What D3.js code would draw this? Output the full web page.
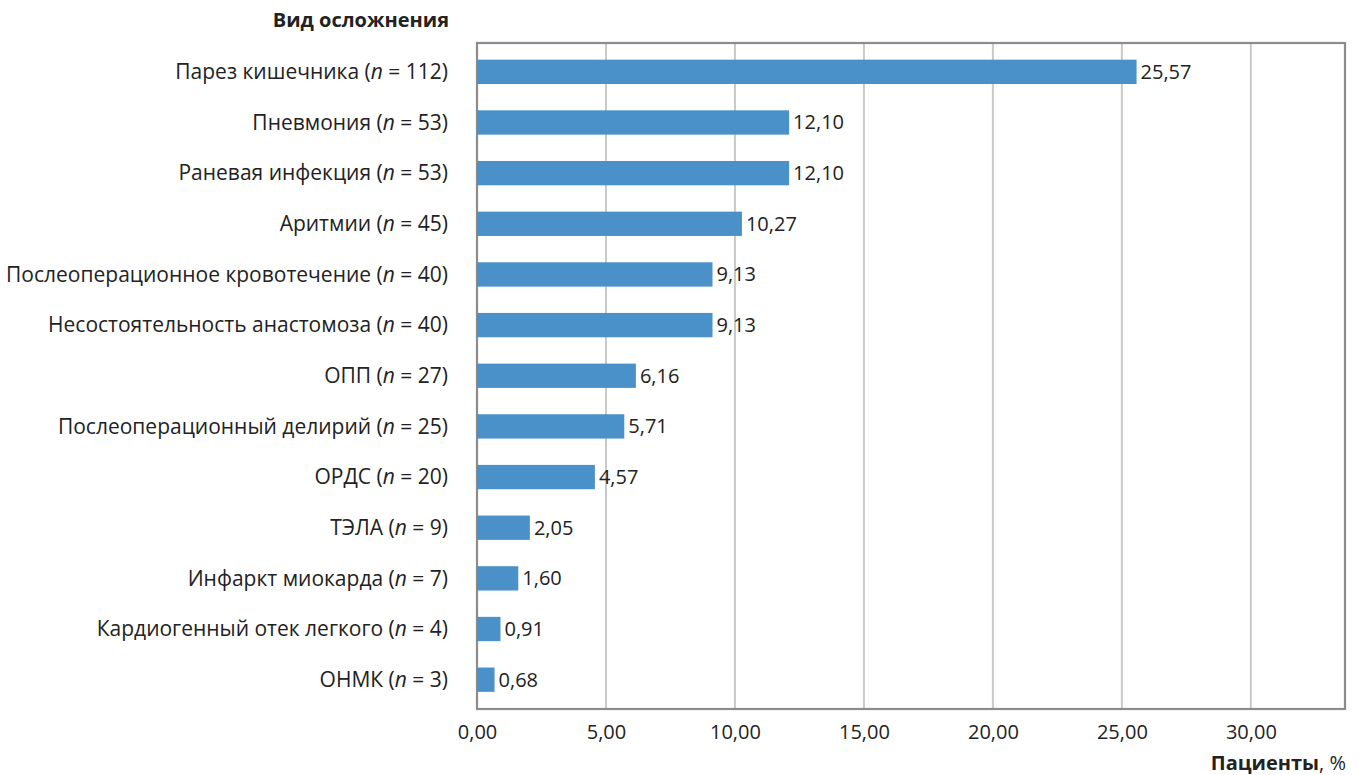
<!DOCTYPE html>
<html lang="ru">
<head>
<meta charset="utf-8">
<script src="https://cdn.jsdelivr.net/npm/d3@7"></script>
<style>
  html, body { margin: 0; padding: 0; background: #fff; }
  svg { display: block; font-family: "Open Sans", "Noto Sans", sans-serif; }
</style>
</head>
<body>
<svg id="chart" width="1361" height="775"></svg>
<script>
// Complication types, patient counts and share of patients (%)
const categories = [
  "Парез кишечника", "Пневмония", "Раневая инфекция", "Аритмии",
  "Послеоперационное кровотечение", "Несостоятельность анастомоза", "ОПП",
  "Послеоперационный делирий", "ОРДС", "ТЭЛА", "Инфаркт миокарда",
  "Кардиогенный отек легкого", "ОНМК"
];
const counts = [112, 53, 53, 45, 40, 40, 27, 25, 20, 9, 7, 4, 3];
const percents = [25.57, 12.10, 12.10, 10.27, 9.13, 9.13, 6.16, 5.71, 4.57, 2.05, 1.60, 0.91, 0.68];
const xTicks = [0, 5, 10, 15, 20, 25, 30];
const xMax = 33.65;

const svg = d3.select("#chart");
const frame = { left: 477, right: 1345, top: 43, bottom: 709 };

const x = d3.scaleLinear().domain([0, xMax]).range([frame.left, frame.right]);
const y = d3.scaleBand().domain(categories).range([46.5, 705]).paddingInner(0.52).paddingOuter(0.26);

const fmt = v => v.toFixed(2).replace(".", ",");

// vertical gridlines
svg.append("g").selectAll("line")
  .data(xTicks.filter(t => t > 0))
  .join("line")
  .attr("x1", d => x(d)).attr("x2", d => x(d))
  .attr("y1", frame.top).attr("y2", frame.bottom)
  .attr("stroke", "#c9c9c9").attr("stroke-width", 2);

// plot frame
svg.append("rect")
  .attr("x", frame.left).attr("y", frame.top)
  .attr("width", frame.right - frame.left).attr("height", frame.bottom - frame.top)
  .attr("fill", "none").attr("stroke", "#8c8c8c").attr("stroke-width", 2.2);

// bars
svg.append("g").selectAll("rect")
  .data(categories)
  .join("rect")
  .attr("x", x(0))
  .attr("y", d => y(d))
  .attr("width", (d, i) => x(percents[i]) - x(0))
  .attr("height", y.bandwidth())
  .attr("fill", "#4a90c9");

// value labels
svg.append("g").selectAll("text")
  .data(categories)
  .join("text")
  .attr("x", (d, i) => x(percents[i]) + 4)
  .attr("y", d => y(d) + y.bandwidth() / 2)
  .attr("dy", "0.35em")
  .attr("font-size", 20)
  .attr("fill", "#222")
  .text((d, i) => fmt(percents[i]));

// category labels
const catLabels = svg.append("g").selectAll("text")
  .data(categories)
  .join("text")
  .attr("x", 448)
  .attr("y", d => y(d) + y.bandwidth() / 2)
  .attr("dy", "0.35em")
  .attr("text-anchor", "end")
  .attr("font-size", 21)
  .attr("fill", "#222");
catLabels.append("tspan").text(d => d + " (");
catLabels.append("tspan").attr("font-style", "italic").text("n");
catLabels.append("tspan").text((d, i) => " = " + counts[i] + ")");

// x axis tick labels
const xAxis = d3.axisBottom(x).tickValues(xTicks).tickFormat(fmt).tickSize(0).tickPadding(16);
const gx = svg.append("g").attr("transform", `translate(0,${frame.bottom})`).call(xAxis);
gx.select(".domain").remove();
gx.selectAll("text").attr("font-size", 20).attr("fill", "#222")
  .attr("font-family", "\"Open Sans\", \"Noto Sans\", sans-serif");

// axis titles
svg.append("text")
  .attr("x", 449).attr("y", 20).attr("dy", "0.35em")
  .attr("text-anchor", "end").attr("font-size", 20).attr("font-weight", "bold")
  .attr("fill", "#222").text("Вид осложнения");

const xt = svg.append("text")
  .attr("x", 1346).attr("y", 763).attr("dy", "0.35em")
  .attr("text-anchor", "end").attr("font-size", 20).attr("fill", "#222");
xt.append("tspan").attr("font-weight", "bold").text("Пациенты");
xt.append("tspan").text(", %");
</script>
</body>
</html>
